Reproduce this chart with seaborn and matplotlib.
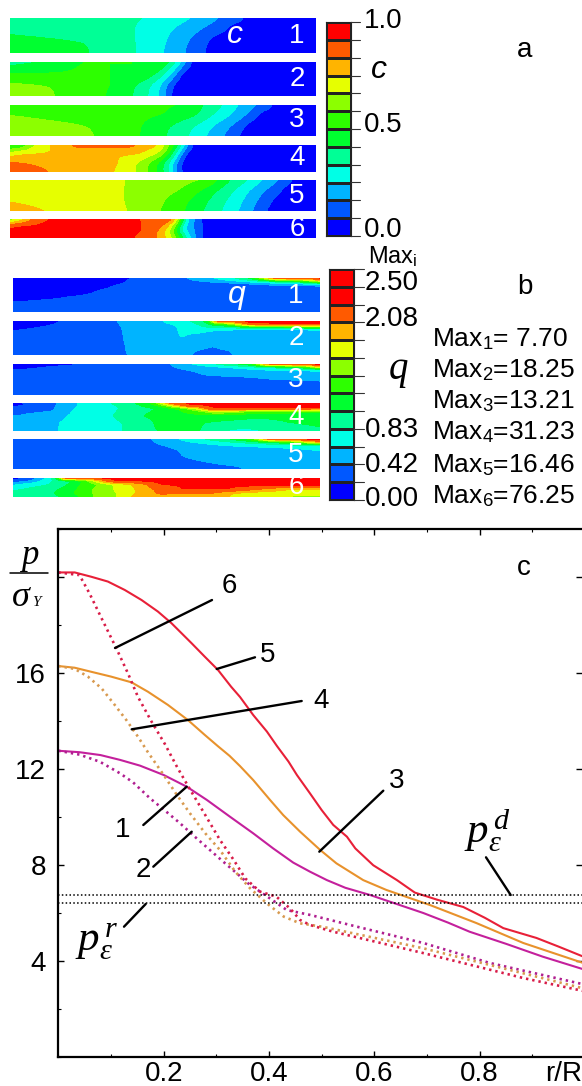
import numpy as np
import pandas as pd
import matplotlib
matplotlib.use("Agg")
import matplotlib.pyplot as plt
import seaborn as sns
from matplotlib.colors import ListedColormap
from matplotlib.lines import Line2D
from matplotlib.ticker import MultipleLocator

W, H = 582, 1086

band_colors = ["#0000ff", "#0058ff", "#00b4ff", "#00ffe6", "#00ff96", "#00ff30",
               "#2dff00", "#8cff00", "#e6ff00", "#ffb400", "#ff5a00", "#ff0000"]
cbar_q_colors = band_colors + ["#ff0000"]

# each strip: rows of (depth fraction, [(x percent, band value), ...])
c_strip1 = [
    (0.00, [(0, 4.5), (45, 4), (60, 3), (68.5, 2), (77, 1), (78, .5)]),
    (0.33, [(0, 4.7), (41, 4), (53, 3), (62, 2), (70.7, 1), (72, .5)]),
    (0.67, [(0, 5.4), (25, 5), (41, 4), (51, 3), (58, 2), (65, 1), (66, .5)]),
    (1.00, [(0, 5.5), (26.5, 5), (41, 4), (50, 3), (57, 2), (64, 1), (65, .5)]),
]
c_strip2 = [
    (0.00, [(0, 4.5), (11, 5), (20, 6), (50, 6), (52, 5), (54.4, 4), (56, 3), (57.5, 2), (59, 1), (60.4, .5)]),
    (0.33, [(0, 6), (43.5, 6), (48, 5), (50.5, 4), (52.7, 3), (54.4, 2), (55.5, 1), (56.5, .5)]),
    (0.67, [(0, 7.2), (13, 7), (33, 6), (41, 5), (45.6, 4), (49, 3), (51, 2), (53.3, 1), (54, .5)]),
    (1.00, [(0, 7.6), (14.8, 7), (31, 6), (40, 5), (45, 4), (48.7, 3), (50.5, 2), (52.5, 1), (53, .5)]),
]
c_strip3 = [
    (0.00, [(0, 6.4), (58.7, 6), (63, 5), (69.6, 4), (74.5, 3), (81, 2), (86, 1), (87, .5)]),
    (0.33, [(0, 7), (51, 6), (61, 5), (66, 4), (72, 3), (77, 2), (81, 1), (82, .5)]),
    (0.67, [(0, 7.5), (26, 7), (43, 6), (52, 5), (60, 4), (66, 3), (72, 2), (77, 1), (78, .5)]),
    (1.00, [(0, 7.6), (28, 7), (42.4, 6), (51, 5), (58, 4), (64, 3), (69.6, 2), (75, 1), (76, .5)]),
]
c_strip4 = [
    (0.00, [(0, 5.5), (4, 6), (6, 7), (8, 8), (13, 9), (20, 10), (20.5, 10.4), (40, 10.4), (41, 10), (49, 9),
            (50.5, 8), (52, 7), (53.5, 6), (55, 5), (56, 4), (57, 3), (58, 2), (59.5, 1), (60, .5)]),
    (0.33, [(0, 8.5), (3, 9), (42, 9), (48, 8), (50, 7), (52, 6), (52.7, 5), (54, 4), (55, 3), (56, 2), (57, 1), (58, .5)]),
    (0.67, [(0, 10.2), (6, 10), (36, 9), (41, 8), (45, 7), (48, 6), (50, 5), (51.6, 4), (53, 3), (54.4, 2), (55.5, 1), (56.5, .5)]),
    (1.00, [(0, 10.5), (13, 10), (34.2, 9), (41, 8), (45, 7), (47.8, 6), (50, 5), (52, 4), (53, 3), (54, 2), (56, 1), (57, .5)]),
]
c_strip5 = [
    (0.00, [(0, 8.5), (38, 8), (64, 7), (68, 6), (72, 5), (77.8, 4), (82.8, 3), (87.7, 2), (92.6, 1), (93.6, .5)]),
    (0.33, [(0, 8.7), (37.5, 8), (55.5, 7), (62, 6), (67.5, 5), (73, 4), (78, 3), (83, 2), (89, 1), (90, .5)]),
    (0.67, [(0, 8.9), (37.5, 8), (50.5, 7), (58, 6), (64.5, 5), (70.5, 4), (76, 3), (80.5, 2), (86, 1), (87, .5)]),
    (1.00, [(0, 9.5), (11.8, 9), (38.5, 8), (49, 7), (57, 6), (63, 5), (69, 4), (74.5, 3), (79, 2), (84, 1), (85, .5)]),
]
c_strip6 = [
    (0.00, [(0, 7), (3, 8), (5, 9), (7.5, 10), (8.5, 11), (52, 11), (53, 10), (54, 9), (55, 8), (55.5, 7), (56, 6),
            (56.5, 5), (57, 4), (58, 3), (60, 2), (62.5, 1), (63.3, .5)]),
    (0.33, [(0, 10.5), (4, 11), (46, 11), (50, 10), (52, 9), (53, 8), (54, 7), (55, 6), (55.5, 5), (56, 4), (57, 3),
            (60, 2), (62.8, 1), (63.6, .5)]),
    (0.67, [(0, 11.5), (44, 11), (48, 10), (50.5, 9), (52, 8), (53, 7), (54, 6), (55, 5), (56, 4), (57.5, 3), (60, 2),
            (63, 1), (63.8, .5)]),
    (1.00, [(0, 11.5), (41.5, 11), (48, 10), (51, 9), (53, 8), (54.5, 7), (55.5, 6), (56.5, 5), (57.5, 4), (59, 3),
            (60.5, 2), (62.5, 1), (63.3, .5)]),
]

q_strip1 = [
    (0.00, [(0, .5), (40, 1), (57, 2), (65, 3), (72, 4), (76, 5), (79, 6), (81, 8), (83, 9), (84, 11), (100, 11.5)]),
    (0.10, [(0, .3), (37, 1), (62, 2), (75, 3), (85, 4), (92, 5), (96, 6), (100, 8)]),
    (0.20, [(0, .3), (33, 1), (70, 1.2), (85, 1.9), (100, 2)]),
    (0.35, [(0, .4), (28, 1), (100, 1.5)]),
    (0.55, [(0, .7), (17.6, 1), (100, 1.5)]),
    (0.65, [(0, .9), (6.7, 1), (100, 1.5)]),
    (0.72, [(0, 1.02), (100, 1.5)]),
    (1.00, [(0, 1.5), (100, 1.5)]),
]
q_strip2 = [
    (0.00, [(0, .6), (16, 1), (34, 2), (49, 3), (58, 4), (62, 5), (64, 6), (65, 8), (66, 11), (100, 11.5)]),
    (0.10, [(0, .6), (14, 1), (35, 2), (50, 2.9), (53, 3), (61, 4), (65, 5), (70, 6), (73, 8), (77, 11), (100, 11.2)]),
    (0.17, [(0, .7), (10, 1), (35.5, 2), (52, 2.9), (54, 3), (62, 4), (68, 4.5), (80, 5), (90, 6), (100, 7)]),
    (0.26, [(0, .95), (3, 1), (36, 2), (52.5, 2.9), (54, 3), (58, 3.5), (66, 3), (80, 2.5), (100, 2.5)]),
    (0.50, [(0, 1.5), (36.5, 2), (52, 2.5), (54, 3), (56, 3), (58, 2.5), (100, 2.3)]),
    (0.72, [(0, 1.5), (36.6, 2), (60, 2.2), (65, 2.01), (70, 2.2), (100, 2.3)]),
    (1.00, [(0, 1.5), (36.6, 2), (59, 2), (60, 1.8), (71, 1.8), (71.2, 2), (100, 2.5)]),
]
q_strip3 = [
    (0.00, [(0, .5), (26, 1), (52, 2), (58, 3), (65, 4), (72, 5), (78, 6), (80, 8), (83, 11), (100, 11.5)]),
    (0.10, [(0, .6), (10, 1), (53, 2), (70, 3), (85, 4), (92, 5), (96, 6), (100, 9)]),
    (0.20, [(0, 1.05), (55, 1.9), (58, 2), (82, 2.9), (100, 3)]),
    (0.36, [(0, 1.5), (60, 1.9), (63, 2), (100, 2.2)]),
    (0.50, [(0, 1.5), (75, 1.9), (85, 2), (100, 2.05)]),
    (0.60, [(0, 1.5), (100, 1.95)]),
    (1.00, [(0, 1.5), (100, 1.5)]),
]
q_strip4 = [
    (0.00, [(0, .5), (3, 1), (15, 2), (21, 3), (32, 4), (40, 5), (45, 6), (48, 8), (52, 11), (100, 11.5)]),
    (0.10, [(0, .9), (6, 1), (14, 2), (21, 3), (34, 4), (42, 5), (48, 6), (52, 8), (57, 11), (100, 11.2)]),
    (0.20, [(0, 1.3), (14, 2), (20, 3), (35, 4), (47, 5), (55, 6), (60, 8), (64, 11), (100, 11)]),
    (0.30, [(0, 1.6), (14, 2), (19, 3), (34, 4), (45, 5), (55, 6), (63, 7), (65, 8), (68, 8), (80, 6.5), (100, 6.3)]),
    (0.45, [(0, 1.98), (2, 2), (18, 3), (33, 4), (42, 5), (60, 5.7), (80, 5.3), (100, 5.3)]),
    (0.70, [(0, 2.5), (15.5, 3), (34, 3.9), (36, 4), (46, 5), (55, 5.9), (62, 5), (80, 4.5), (90, 5), (100, 5.2)]),
    (1.00, [(0, 2.5), (15, 3), (36, 4), (47, 5), (58, 5.2), (62, 4.9), (68, 4), (75, 3.7), (82, 4), (100, 4.8)]),
]
q_strip5 = [
    (0.00, [(0, 1.5), (46, 2), (54, 3), (62, 4), (70, 5), (76, 6), (80, 8), (83, 11), (100, 11.5)]),
    (0.10, [(0, 1.5), (47, 2), (58, 3), (72, 4), (84, 5), (90, 6), (95, 8), (100, 10)]),
    (0.22, [(0, 1.5), (48, 1.95), (50, 2), (70, 3), (85, 3.3), (100, 3.3)]),
    (0.35, [(0, 1.5), (50, 1.9), (54, 2), (80, 2.6), (92, 2.9), (100, 3.1)]),
    (0.60, [(0, 1.5), (52, 1.95), (56, 2), (100, 2.5)]),
    (1.00, [(0, 1.5), (74, 1.95), (75, 2), (100, 2.3)]),
]
q_strip6 = [
    (0.00, [(0, .6), (5, 1), (8, 2), (11, 3), (13, 4), (15, 6), (16, 9), (17, 11), (100, 11.9)]),
    (0.15, [(0, 1.2), (6, 2), (9, 3), (13, 4), (20, 5), (25, 7), (30, 10), (33, 11), (100, 11.9)]),
    (0.35, [(0, 2.8), (5, 3.5), (12, 4), (18, 5), (22, 6), (28, 7), (33, 8), (39, 9), (44, 10), (48, 11), (100, 11.5)]),
    (0.60, [(0, 3.8), (10, 4.5), (15, 5), (21, 6), (26, 7), (33, 8), (40, 9), (46, 10), (55, 11), (70, 11), (80, 10), (90, 9), (100, 9)]),
    (0.80, [(0, 4.2), (14, 5), (20, 6), (26, 7), (34, 8), (40, 9), (46, 10), (65, 10), (72, 9), (80, 8.5), (100, 8.2)]),
    (1.00, [(0, 4.5), (17, 5), (22, 6), (26.5, 7), (34, 8), (38.5, 9), (47, 10), (65, 9.9), (70, 9), (78, 8), (100, 7.8)]),
]

# panel c curves
x1 = [0, .04, .08, .117, .155, .2, .244, .282, .326, .37, .408, .446, .478, .51, .545, .592, .693, .74, .781, .851, .92, .995]
y1 = [12.76, 12.7, 12.58, 12.38, 12.14, 11.75, 11.26, 10.71, 10.01, 9.32, 8.69, 8.1, 7.72, 7.37, 7.05, 6.75, 6.0, 5.6, 5.22, 4.71, 4.18, 3.67]
x2 = [0, .04, .079, .117, .142, .174, .205, .231, .259, .288, .313, .339, .36, .383, .411, .434, .478, .567, .693, .819, .995]
y2 = [12.76, 12.6, 12.3, 11.82, 11.44, 10.78, 10.22, 9.74, 9.18, 8.62, 8.14, 7.65, 7.24, 6.89, 6.47, 6.12, 5.92, 5.43, 4.75, 3.92, 3.04]
x3 = [0, .031, .0625, .1, .139, .17, .208, .246, .278, .303, .325, .345, .37, .402, .427, .459, .497, .528, .579, .623, .706, .794, .883, .995]
y3 = [16.29, 16.22, 16.05, 15.85, 15.61, 15.22, 14.67, 14.04, 13.42, 12.95, 12.55, 12.12, 11.54, 10.71, 10.08, 9.39, 8.63, 8.07, 7.37, 6.96, 6.33, 5.58, 4.75, 3.93]
x4 = [0, .031, .056, .082, .107, .129, .151, .17, .2, .225, .25, .279, .307, .336, .364, .396, .428, .459, .503, .693, .995]
y4 = [16.29, 16.17, 15.85, 15.36, 14.67, 14.04, 13.35, 12.7, 11.75, 10.92, 10.15, 9.32, 8.62, 7.72, 7.03, 6.4, 5.85, 5.57, 5.42, 4.53, 2.87]
x5 = [0, .031, .0625, .094, .126, .158, .189, .215, .253, .278, .303, .328, .345, .37, .396, .415, .437, .453, .478, .5, .522, .548, .564, .598, .643, .677, .72, .769, .81, .845, .908, .95, .995]
y5 = [20.19, 20.19, 20.01, 19.81, 19.46, 19.04, 18.56, 18.07, 17.24, 16.68, 16.13, 15.43, 15.0, 14.25, 13.56, 12.96, 12.31, 11.75, 10.98, 10.29, 9.67, 9.18, 8.69, 7.99, 7.37, 6.85, 6.55, 6.25, 5.8, 5.37, 4.96, 4.6, 4.2]
x6 = [0, .04, .059, .082, .11, .132, .151, .177, .202, .225, .247, .279, .307, .333, .355, .383, .414, .44, .459, .478, .522, .693, .883, .995]
y6 = [20.19, 20.08, 19.32, 18.28, 17.03, 15.99, 15.01, 13.97, 13.05, 12.1, 11.26, 10.08, 9.04, 8.21, 7.44, 6.89, 6.68, 6.19, 5.71, 5.5, 5.22, 4.33, 3.29, 2.76]
eps_r, eps_d = 6.4, 6.75

c_labels = ["1.0", "0.5", "0.0"]
q_labels = ["2.50", "2.08", "0.83", "0.42", "0.00"]
max_values = ["7.70", "18.25", "13.21", "31.23", "16.46", "76.25"]

sns.set_style("white")
plt.rcParams["font.family"] = ["Liberation Sans", "DejaVu Sans"]
plt.rcParams["text.color"] = "black"
plt.rcParams["xtick.color"] = "black"
plt.rcParams["ytick.color"] = "black"
plt.rcParams["mathtext.fontset"] = "custom"
plt.rcParams["mathtext.rm"] = "Liberation Sans"
plt.rcParams["mathtext.it"] = "Liberation Serif:italic"

fig = plt.figure(figsize=(W / 100, H / 100), dpi=100)


def box(l, t, r, b):
    return fig.add_axes([l / W, 1 - b / H, (r - l) / W, (b - t) / H])


def label(x, y, s, size=20, **kw):
    kw.setdefault("ha", "center")
    kw.setdefault("va", "center")
    fig.text(x / W, 1 - y / H, s, fontsize=size, **kw)


def callout(x0, y0, x1_, y1_, lw=1.7):
    fig.add_artist(Line2D([x0 / W, x1_ / W], [1 - y0 / H, 1 - y1_ / H], color="black", lw=lw,
                          transform=fig.transFigure))


def soften(arr, sigma):
    # gaussian along the last axis, edges held
    half = int(3 * sigma) + 1
    k = np.exp(-0.5 * (np.arange(-half, half + 1) / sigma) ** 2)
    k /= k.sum()
    padded = np.pad(arr, ((0, 0), (half, half)), mode="edge")
    return np.array([np.convolve(row, k, mode="valid") for row in padded])


def draw_strip(rows, l, t, r, b, sx, sy):
    ax = box(l, t, r, b)
    xg = np.linspace(0, 100, 500)
    fr = np.array([row[0] for row in rows])
    prof = np.array([np.interp(xg, [p[0] for p in row[1]], [p[1] for p in row[1]]) for row in rows])
    yg = np.linspace(0, 1, 150)
    field = np.array([np.interp(yg, fr, prof[:, i]) for i in range(len(xg))]).T
    field = soften(field, sx)
    field = soften(field.T, sy).T
    ax.contourf(xg, yg, field, levels=np.arange(13), colors=band_colors)
    ax.set_ylim(1, 0)
    ax.axis("off")


def draw_cbar(colors, l, t, r, b, tick_end):
    ax = box(l, t, r, b)
    cells = np.arange(len(colors))[::-1].reshape(-1, 1)
    sns.heatmap(cells, cmap=ListedColormap(colors), cbar=False, linewidths=.8, linecolor="#222222",
                xticklabels=False, yticklabels=False, ax=ax)
    for s in ax.spines.values():
        s.set_visible(True)
        s.set_color("#222222")
        s.set_linewidth(.8)
    ax.set_xlabel("")
    ax.set_ylabel("")
    step = (b - t) / len(colors)
    for i in range(len(colors) + 1):
        fig.add_artist(Line2D([r / W, tick_end / W], [1 - (t + i * step) / H] * 2, color="#333333", lw=.8,
                              transform=fig.transFigure))


# panel a
a_boxes = [(18, 53), (62, 96), (105, 136), (145, 172), (180, 211), (219, 238)]
a_num_y = [36, 79, 120, 158, 196, 229]
for i, rows in enumerate([c_strip1, c_strip2, c_strip3, c_strip4, c_strip5, c_strip6]):
    draw_strip(rows, 10.5, a_boxes[i][0], 316, a_boxes[i][1], 6, 14)
    label(297, a_num_y[i], str(i + 1), color="white")
label(235, 35, "c", size=23, color="white", style="italic")
draw_cbar(band_colors, 326, 22, 351, 236, 360)
for s, y in zip(c_labels, [21, 125, 230]):
    label(383, y, s)
label(379, 70, "c", size=23, style="italic")
label(525, 50, "a")

# panel b
b_boxes = [(278, 312), (321, 355), (364, 395), (403, 431), (439, 469), (478, 497)]
b_num_y = [296, 338, 380, 417, 455, 487]
for i, rows in enumerate([q_strip1, q_strip2, q_strip3, q_strip4, q_strip5, q_strip6]):
    draw_strip(rows, 12.5, b_boxes[i][0], 319.5, b_boxes[i][1], 4, 5)
    label(296, b_num_y[i], str(i + 1), color="white")
label(237, 295, "q", size=23, color="white", style="italic")
draw_cbar(cbar_q_colors, 329, 269, 354, 500, 364)
for s, y in zip(q_labels, [283, 319, 430, 465, 499]):
    label(392, y, s)
label(368, 257, r"Max$_{\mathrm{i}}$", size=17, ha="left")
label(398, 370, "q", size=28, family="Liberation Serif", style="italic")
label(525, 287, "b")
for i, (v, y) in enumerate(zip(max_values, [339, 370, 401, 432, 465, 496])):
    eq = "= " if v == "7.70" else "="
    label(432, y, "Max$_{\\mathrm{%d}}$%s%s" % (i + 1, eq, v), size=19, ha="left")

# panel c
ax = box(58.4, 529, 582, 1057)
dots = (0, (.9, 1.5))
curve_styles = [(x1, y1, "#c4209c", "-", 1.5), (x2, y2, "#b01f90", dots, 1.9),
                (x3, y3, "#e8922c", "-", 1.5), (x4, y4, "#d89a50", dots, 1.9),
                (x5, y5, "#e82038", "-", 1.5), (x6, y6, "#d81c48", dots, 1.9)]
for xs, ys, col, ls, lw in curve_styles:
    df = pd.DataFrame({"r": xs, "p": ys})
    sns.lineplot(data=df, x="r", y="p", color=col, linestyle=ls, linewidth=lw, sort=False, errorbar=None, ax=ax)
for lvl in [eps_r, eps_d]:
    ax.axhline(lvl, color="black", lw=1.1, linestyle=(0, (1, 1.5)))
ax.set_xlim(0, .9945)
ax.set_ylim(0, 22)
ax.set_xlabel("")
ax.set_ylabel("")
ax.xaxis.set_minor_locator(MultipleLocator(.1))
ax.yaxis.set_minor_locator(MultipleLocator(2))
ax.set_xticks([.2, .4, .6, .8])
ax.set_xticklabels(["0.2", "0.4", "0.6", "0.8"])
ax.set_yticks([4, 8, 12, 16, 20])
ax.set_yticklabels(["4", "8", "12", "16", ""])
ax.tick_params(axis="both", which="major", direction="in", length=4, width=1, labelsize=20, top=True, right=True,
               bottom=True, left=True)
ax.tick_params(axis="x", which="major", pad=3)
ax.tick_params(axis="y", which="major", pad=9)
ax.tick_params(axis="both", which="minor", direction="in", length=2.5, width=.8, top=True, bottom=True, left=True,
               right=False)
ax.spines["right"].set_visible(False)
for name in ["top", "bottom", "left"]:
    ax.spines[name].set_linewidth(1.6)
    ax.spines[name].set_color("black")

label(582, 1074, "r/R", ha="right")
label(524, 568, "c")
label(229, 586, "6")
label(268, 655, "5")
label(321, 701, "4")
label(397, 781, "3")
label(123, 830, "1")
label(143, 870, "2")
callout(115, 648, 212, 600)
callout(216.7, 669, 255, 657.3)
callout(131.7, 729.3, 301.7, 701)
callout(319.3, 851.7, 383.3, 790.7)
callout(186.7, 786.7, 143.3, 825)
callout(191.7, 831.7, 153.3, 866.7)
callout(145.7, 904, 124, 926.7)
callout(510.7, 895, 486, 857.3)
label(97, 942, r"$p_{\varepsilon}^{\,r}$", size=31)
label(487, 830, r"$p_{\varepsilon}^{\,d}$", size=31)
label(29, 557, "$p$", size=25)
callout(10, 573, 48, 573, lw=1.1)
label(21, 597, "\u03c3", size=26, family="Liberation Serif", style="italic")
label(36, 603, "Y", size=11, family="Liberation Serif", style="italic")

fig.savefig("out.png", dpi=100)
